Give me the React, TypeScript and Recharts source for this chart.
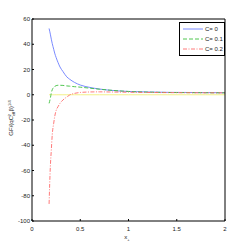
import React from 'react';
import { LineChart, Line, XAxis, YAxis } from 'recharts';

const xValues = [0.177, 0.19, 0.2, 0.21, 0.225, 0.235, 0.25, 0.27, 0.29, 0.32, 0.36, 0.39, 0.44, 0.5, 0.6, 0.7, 0.8, 0.9, 1.0, 1.2, 1.4, 1.6, 1.8, 2.0];
const c0 = [52.5, 48, 44, 40.5, 36, 33, 29.5, 25.5, 22, 18.5, 14.2, 12.3, 9.8, 7.7, 5.8, 4.5, 3.6, 3.0, 2.6, 2.2, 1.9, 1.8, 1.7, 1.6];
const c01 = [-6.8, -2.8, 1.5, 4, 5.9, 6.6, 7.2, 7.5, 7.5, 7.4, 7.0, 6.8, 6.4, 6.0, 5.2, 4.4, 3.7, 3.1, 2.6, 2.1, 1.8, 1.7, 1.6, 1.5];
const c02 = [-86.5, -57, -44, -31.5, -22.5, -17.4, -12.5, -9.4, -6.8, -4.2, -1.8, -0.2, 1.1, 1.8, 2.2, 2.3, 2.2, 2.1, 2.0, 1.8, 1.7, 1.6, 1.55, 1.5];
const zero = xValues.map(() => 0);

const xTicks = [0, 0.5, 1, 1.5, 2];
const yTicks = [-100, -80, -60, -40, -20, 0, 20, 40, 60];

const data = xValues.map((x, i) => ({ x, c0: c0[i], c01: c01[i], c02: c02[i], zero: zero[i] }));

const series = [
  { key: 'c0', name: 'C= 0', color: '#6b7dff', dash: undefined },
  { key: 'c01', name: 'C= 0.1', color: '#3cc03c', dash: '4 2' },
  { key: 'c02', name: 'C= 0.2', color: '#ff6b6b', dash: '4 1.5 1 1.5' },
];

const font = { fontFamily: 'Liberation Sans, Arial, sans-serif', fontSize: 6, fill: '#222' };

// legend drawn as a plain box over the chart so it doesn't eat plot space
const LegendBox = () => (
  <div style={{ position: 'absolute', left: 179, top: 22, border: '1px solid #000', background: '#fff', width: 44, padding: '1px 0', fontFamily: 'Liberation Sans, Arial, sans-serif', fontSize: 6, color: '#222' }}>
    {series.map((s) => (
      <div key={s.key} style={{ display: 'flex', alignItems: 'center', height: 10 }}>
        <svg width={22} height={6} style={{ marginLeft: 2 }}>
          <line x1={1} y1={3} x2={21} y2={3} stroke={s.color} strokeWidth={0.9} strokeDasharray={s.dash} />
        </svg>
        <span style={{ marginLeft: 1 }}>{s.name}</span>
      </div>
    ))}
  </div>
);

export default function App() {
  return (
    <div style={{ position: 'absolute', left: 0, top: 0, width: 249, height: 249, background: '#fff' }}>
      <LineChart width={249} height={249} data={data} margin={{ top: 18, right: 23, bottom: 0, left: 2 }}>
        <XAxis dataKey="x" type="number" domain={[0, 2]} ticks={xTicks} height={28}
          axisLine={{ stroke: '#000' }} tickLine={{ stroke: '#000' }} tickSize={-2} tickMargin={8}
          tick={font} tickFormatter={(v) => String(v)} />
        <XAxis xAxisId="top" orientation="top" dataKey="x" type="number" domain={[0, 2]} ticks={xTicks} height={1}
          axisLine={{ stroke: '#000' }} tickLine={{ stroke: '#000' }} tickSize={-2} tick={false} />
        <YAxis type="number" domain={[-100, 60]} ticks={yTicks} width={30}
          axisLine={{ stroke: '#000' }} tickLine={{ stroke: '#000' }} tickSize={-2} tickMargin={4}
          tick={font} />
        <YAxis yAxisId="right" orientation="right" type="number" domain={[-100, 60]} ticks={yTicks} width={1}
          axisLine={{ stroke: '#000' }} tickLine={{ stroke: '#000' }} tickSize={-2} tick={false} />
        <Line dataKey="zero" stroke="#f2ee7a" strokeWidth={0.9} dot={false} isAnimationActive={false} legendType="none" />
        {series.map((s) => (
          <Line key={s.key} dataKey={s.key} name={s.name} type="monotone" stroke={s.color} strokeWidth={0.9}
            strokeDasharray={s.dash} dot={false} isAnimationActive={false} />
        ))}
        <text x={127} y={239} textAnchor="middle" style={font}>
          <tspan>x</tspan>
          <tspan dy={2} fontSize={4}>+</tspan>
        </text>
        <text x={13} y={118} textAnchor="middle" transform="rotate(-90 13 118)" style={font}>
          <tspan>GF/(qC</tspan>
          <tspan dy={1.5} fontSize={4}>eff</tspan>
          <tspan dy={-4} dx={-5} fontSize={4}>2</tspan>
          <tspan dy={2.5} dx={3}>β)</tspan>
          <tspan dy={-2.5} fontSize={4}>1/4</tspan>
        </text>
      </LineChart>
      <LegendBox />
    </div>
  );
}
